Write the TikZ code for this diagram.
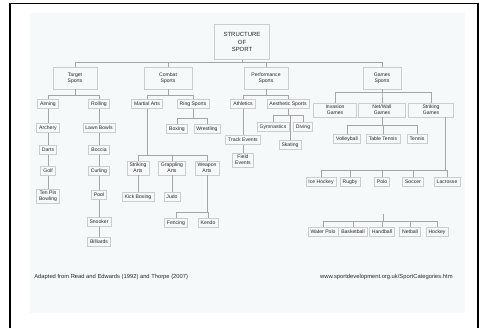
\documentclass[tikz,border=0pt]{standalone}
\usepackage{fontspec}
\setmainfont{Liberation Sans}
\usetikzlibrary{positioning,calc}
\definecolor{paper}{RGB}{246,249,249}
\definecolor{rule}{RGB}{165,165,165}
\definecolor{ink}{RGB}{40,40,40}

\begin{document}
\begin{tikzpicture}[
    x=0.02cm, y=-0.02cm,
    box/.style={draw=rule!55, line width=0.3pt, inner xsep=1.5pt, inner ysep=1pt,
                minimum height=0.18cm, align=center, text=ink,
                font=\fontsize{2.9}{3.5}\selectfont},
    tall/.style={box, minimum height=0.28cm},
    head/.style={box, minimum height=0.44cm},
    lnk/.style={draw=rule, line width=0.35pt},
    foot/.style={font=\fontsize{3.3}{4}\selectfont, text=ink, inner sep=0pt}
  ]
  \useasboundingbox (0,0) rectangle (479,328);
  % --- Frame ---
  \fill[paper] (30,13) rectangle (465,313);
  \draw[black, line width=0.6pt] (10,328) -- (10,3.5) -- (478,3.5) -- (478,328);

  % --- Root ---
  \node[box, minimum width=1.1cm, minimum height=0.7cm,
        font=\fontsize{3.4}{4.4}\selectfont] (sport) at (242,42) {STRUCTURE\\OF\\SPORT};

  % --- Level 1 ---
  \node[head, minimum width=0.88cm] (target) at (75,78)  {Target\\Sports};
  \node[head, minimum width=0.96cm] (combat) at (168,78) {Combat\\Sports};
  \node[head, minimum width=0.88cm] (perf)   at (266,78) {Performance\\Sports};
  \node[head, minimum width=0.76cm] (games)  at (382,78) {Games\\Sports};
  \foreach \c in {target,combat,perf,games}
    \draw[lnk] (sport.south) -- ++(0,2.5) -| (\c.north);

  % --- Target sports ---
  \node[box] (aim)  at (48,104) {Aiming};
  \node[box] (roll) at (99,104) {Rolling};
  \foreach \c in {aim,roll}
    \draw[lnk] (target.south) -- ++(0,6) -| (\c.north);
  \node[box]  (archery) at (48,128) {Archery};
  \node[box]  (darts)   at (48,150) {Darts};
  \node[box]  (golf)    at (48,171) {Golf};
  \node[tall] (tenpin)  at (48,196) {Ten Pin\\Bowling};
  \node[box]  (lbowls)  at (99,128) {Lawn Bowls};
  \node[box]  (boccia)  at (99,150) {Boccia};
  \node[box]  (curling) at (99,171) {Curling};
  \node[box]  (pool)    at (99,195) {Pool};
  \node[box]  (snooker) at (99,222) {Snooker};
  \node[box]  (billiard) at (99,242) {Billiards};
  \foreach \a/\b in {aim/archery,archery/darts,darts/golf,golf/tenpin,
                     roll/lbowls,lbowls/boccia,boccia/curling,curling/pool,
                     pool/snooker,snooker/billiard}
    \draw[lnk] (\a.south) -- (\b.north);

  % --- Combat sports ---
  \node[box] (martial) at (147,104) {Martial Arts};
  \node[box] (ringsp)  at (193,104) {Ring Sports};
  \foreach \c in {martial,ringsp}
    \draw[lnk] (combat.south) -- ++(0,6) -| (\c.north);
  \node[tall] (strike)  at (138,168) {Striking\\Arts};
  \node[tall] (grapple) at (172,168) {Grappling\\Arts};
  \node[tall] (weapon)  at (207,168) {Weapon\\Arts};
  \foreach \c in {strike,grapple,weapon}
    \draw[lnk] (martial.south) -- ++(0,46.5) -| (\c.north);
  \node[box] (kick) at (138,197) {Kick Boxing};
  \node[box] (judo) at (172,197) {Judo};
  \draw[lnk] (strike.south) -- (kick.north);
  \draw[lnk] (grapple.south) -- (judo.north);
  \node[box] (fencing) at (176,223) {Fencing};
  \node[box] (kendo)   at (208,223) {Kendo};
  \foreach \c in {fencing,kendo}
    \draw[lnk] (weapon.south) -- ++(0,37) -| (\c.north);
  \node[box] (boxing)  at (177,129) {Boxing};
  \node[box] (wrestle) at (207,129) {Wrestling};
  \foreach \c in {boxing,wrestle}
    \draw[lnk] (ringsp.south) -- ++(0,9.5) -| (\c.north);

  % --- Performance sports ---
  \node[box] (track) at (243,104) {Athletics};
  \node[box] (aesth) at (288,104) {Aesthetic Sports};
  \foreach \c in {track,aesth}
    \draw[lnk] (perf.south) -- ++(0,6) -| (\c.north);
  \node[box]  (tev) at (243,140) {Track Events};
  \node[tall] (fev) at (243,160) {Field\\Events};
  \draw[lnk] (track.south) -- (tev.north);
  \draw[lnk] (tev.south) -- (fev.north);
  \node[box] (gym)     at (273,127) {Gymnastics};
  \node[box] (diving)  at (303,127) {Diving};
  \node[box] (skating) at (290,145) {Skating};
  \foreach \c in {gym,diving,skating}
    \draw[lnk] (aesth.south) -- ++(0,6.5) -| (\c.north);

  % --- Games ---
  \node[tall, minimum width=0.86cm] (invasion) at (335,110) {Invasion\\Games};
  \node[tall, minimum width=0.94cm] (netwall)  at (382,110) {Net/Wall\\Games};
  \node[tall, minimum width=0.90cm] (strikef)  at (431,110) {Striking\\Games};
  \foreach \c in {invasion,netwall,strikef}
    \draw[lnk] (games.south) -- ++(0,3) -| (\c.north);
  % net and wall
  \node[box] (volley)  at (347,139) {Volleyball};
  \node[box] (ttennis) at (383,139) {Table Tennis};
  \node[box] (tennis)  at (417,139) {Tennis};
  \foreach \c in {volley,ttennis,tennis}
    \draw[lnk] (netwall.south) -- ++(0,8) -| (\c.north);
  % field row
  \coordinate (sfdrop) at ($(strikef.south)+(14,0)$);
  \node[box] (ice)      at (321,182) {Ice Hockey};
  \node[box] (rugby)    at (350,182) {Rugby};
  \node[box] (polo)     at (382,182) {Polo};
  \node[box] (soccer)   at (413,182) {Soccer};
  \node[box] (lacrosse) at (447,182) {Lacrosse};
  \foreach \c in {ice,rugby,polo,soccer,lacrosse}
    \draw[lnk] (sfdrop) -- ++(0,53) -| (\c.north);
  % court row
  \coordinate (stub) at (383,214);
  \node[box] (wpolo)   at (323,232) {Water Polo};
  \node[box] (basket)  at (353,232) {Basketball};
  \node[box] (hand)    at (382,232) {Handball};
  \node[box] (netball) at (410,232) {Netball};
  \node[box] (hockey)  at (437,232) {Hockey};
  \foreach \c in {wpolo,basket,hand,netball,hockey}
    \draw[lnk] (stub) -- ++(0,7) -| (\c.north);

  % --- Sources ---
  \node[foot, anchor=west] (src) at (34,277) {Adapted from Read and Edwards (1992) and Thorpe (2007)};
  \node[foot, anchor=east] (web) at (453,277) {www.sportdevelopment.org.uk/SportCategories.htm};
\end{tikzpicture}
\end{document}
